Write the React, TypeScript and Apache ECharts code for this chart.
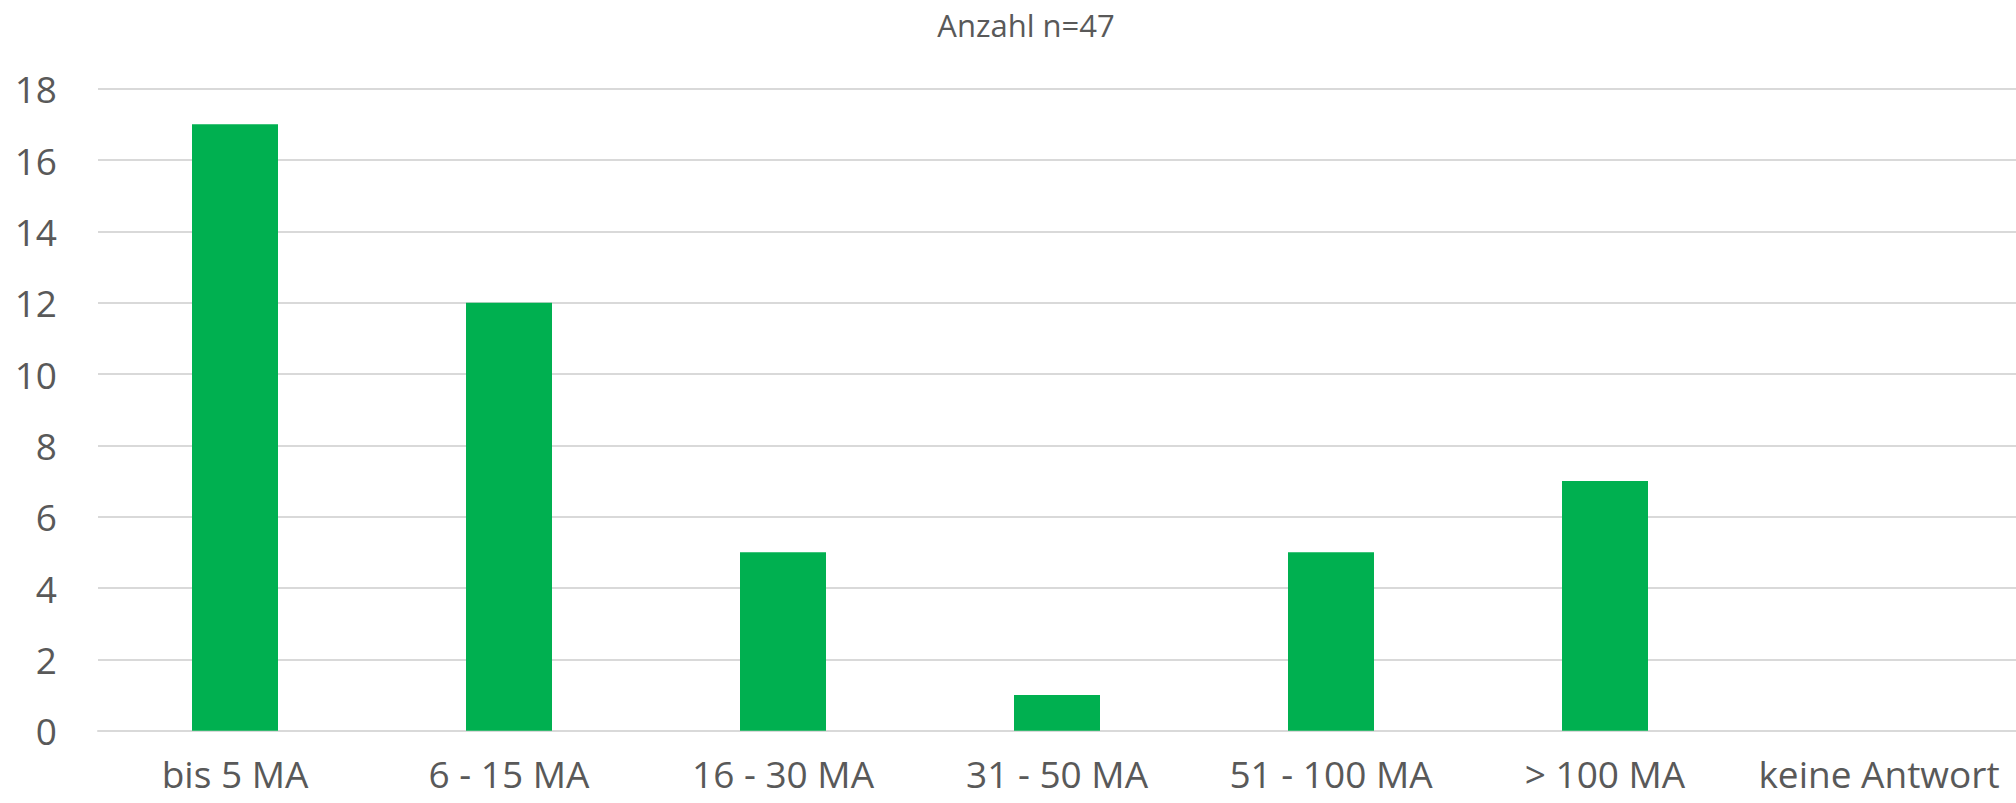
import React, { useEffect, useRef } from "react";
import * as echarts from "echarts";

const categories = ["bis 5 MA", "6 - 15 MA", "16 - 30 MA", "31 - 50 MA", "51 - 100 MA", "> 100 MA", "keine Antwort"];
const values = [17, 12, 5, 1, 5, 7, 0];
const titleText = "Anzahl n=47";

export default function App() {
  const ref = useRef<HTMLDivElement>(null);
  useEffect(() => {
    if (!ref.current) return;
    const chart = echarts.init(ref.current, null, { renderer: "svg" });
    const font = "'Open Sans', 'Noto Sans', sans-serif";
    chart.setOption({
      animation: false,
      backgroundColor: "#ffffff",
      title: {
        text: titleText,
        left: 1021,
        top: 4,
        textAlign: "center",
        textStyle: { fontFamily: font, fontSize: 31, fontWeight: "normal", color: "#595959" },
      },
      grid: { left: 98, right: 0, top: 88.7, bottom: 72.3, containLabel: false },
      xAxis: {
        type: "category",
        data: categories,
        axisLine: { show: true, lineStyle: { color: "#D9D9D9", width: 2 } },
        axisTick: { show: false },
        axisLabel: { fontFamily: font, fontSize: 37, lineHeight: 36, color: "#595959", margin: 25, interval: 0 },
      },
      yAxis: {
        type: "value",
        min: 0,
        max: 18,
        interval: 2,
        axisLine: { show: false },
        axisTick: { show: false },
        splitLine: { lineStyle: { color: "#D9D9D9", width: 2 } },
        axisLabel: { fontFamily: font, fontSize: 37, color: "#595959", margin: 41 },
      },
      series: [
        {
          type: "bar",
          data: values,
          barWidth: 86,
          itemStyle: { color: "#00B050" },
        },
      ],
    });
    return () => chart.dispose();
  }, []);
  return <div ref={ref} style={{ position: "absolute", left: 0, top: 0, width: 2016, height: 803 }} />;
}
